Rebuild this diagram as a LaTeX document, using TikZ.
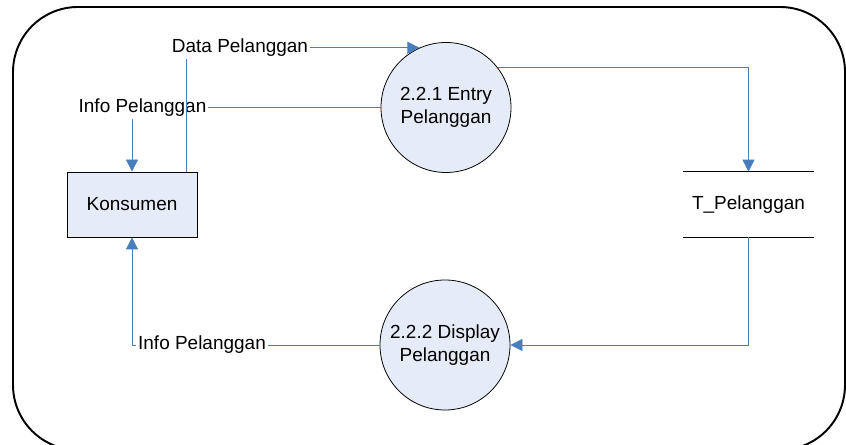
\documentclass[tikz,border=0pt]{standalone}
\usepackage{fontspec}
\setmainfont{Liberation Sans}
\usepackage{tikz}
\usetikzlibrary{arrows.meta}

\definecolor{flowblue}{RGB}{74,126,187}
\definecolor{procfill}{RGB}{230,236,247}

\begin{document}
\begin{tikzpicture}[
    every node/.style={font=\fontsize{10.8}{13.2}\selectfont},
    entity/.style={draw, fill=procfill, line width=0.45pt, minimum width=2.6cm, minimum height=1.3cm},
    proc/.style={circle, draw, fill=procfill, line width=0.45pt, minimum size=2.6cm, inner sep=0pt, align=center},
    flow/.style={draw=flowblue, line width=0.45pt, -{Triangle[length=0.24cm, width=0.24cm]}},
    lbl/.style={fill=white, inner sep=1pt}
]
            \useasboundingbox (0, 0) rectangle (16.92, 8.9);
            \clip (0, 0) rectangle (16.92, 8.9);
            \draw[line width=1.1pt, rounded corners=1.3cm] (0.26, -0.1) rectangle (16.9, 8.76);
            \node[entity] (kons) at (2.64, 4.81) {Konsumen};
            \node[proc] (entry) at (8.92, 6.75) {2.2.1 Entry\\Pelanggan};
            \node[proc] (disp) at (8.9, 2.0) {2.2.2 Display\\Pelanggan};
            \node[minimum width=2.62cm, minimum height=1.3cm] (tpel) at (14.97, 4.81) {T\_Pelanggan};
            \draw[line width=0.45pt] (tpel.north west) -- (tpel.north east) (tpel.south west) -- (tpel.south east);
        %   flows
            \draw[flow] (entry.west) -- (kons.north |- entry.west) -- (kons.north);
            \node[lbl] (info1) at (2.85, 6.74) {Info Pelanggan};
            \draw[flow] ([xshift=-0.22cm]kons.north east) |- (entry.114);
            \node[lbl] (data) at (4.8, 7.94) {Data Pelanggan};
            \draw[flow] (entry.38.5) -| (tpel.north);
            \draw[flow] (tpel.south) |- (disp.east);
            \draw[flow] (disp.west) -| (kons.south);
            \node[lbl] (info2) at (4.04, 2.0) {Info Pelanggan};
        \end{tikzpicture}
\end{document}
